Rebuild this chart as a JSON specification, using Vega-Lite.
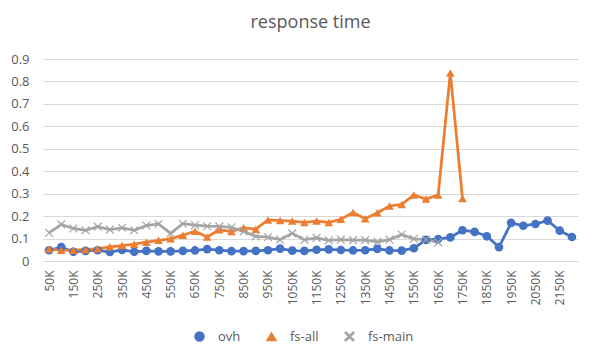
{
  "$schema": "https://vega.github.io/schema/vega-lite/v6.json",
  "width": 535,
  "height": 202,
  "padding": {"left": 10, "top": 14, "right": 19, "bottom": 5},
  "background": "white",
  "title": {"text": "response time", "fontSize": 18, "font": "Open Sans", "fontWeight": "normal", "color": "#595959", "offset": 21, "anchor": "middle"},
  "config": {
    "view": {"stroke": null},
    "font": "Open Sans",
    "legend": {"orient": "none", "legendX": 150, "legendY": 271, "direction": "horizontal", "labelFontSize": 13, "labelColor": "#595959", "labelFont": "Open Sans", "symbolSize": 80, "columnPadding": 23, "labelOffset": 12}
  },
  "data": {"values": [
    {"k": "50K", "ovh": 0.048, "fs-all": 0.053, "fs-main": 0.125},
    {"k": "100K", "ovh": 0.062, "fs-all": 0.048, "fs-main": 0.163},
    {"k": "150K", "ovh": 0.041, "fs-all": 0.048, "fs-main": 0.145},
    {"k": "200K", "ovh": 0.045, "fs-all": 0.051, "fs-main": 0.137},
    {"k": "250K", "ovh": 0.048, "fs-all": 0.055, "fs-main": 0.153},
    {"k": "300K", "ovh": 0.040, "fs-all": 0.063, "fs-main": 0.140},
    {"k": "350K", "ovh": 0.049, "fs-all": 0.069, "fs-main": 0.148},
    {"k": "400K", "ovh": 0.041, "fs-all": 0.075, "fs-main": 0.137},
    {"k": "450K", "ovh": 0.045, "fs-all": 0.084, "fs-main": 0.158},
    {"k": "500K", "ovh": 0.043, "fs-all": 0.092, "fs-main": 0.165},
    {"k": "550K", "ovh": 0.043, "fs-all": 0.099, "fs-main": 0.123},
    {"k": "600K", "ovh": 0.045, "fs-all": 0.115, "fs-main": 0.166},
    {"k": "650K", "ovh": 0.047, "fs-all": 0.133, "fs-main": 0.160},
    {"k": "700K", "ovh": 0.053, "fs-all": 0.107, "fs-main": 0.155},
    {"k": "750K", "ovh": 0.048, "fs-all": 0.139, "fs-main": 0.154},
    {"k": "800K", "ovh": 0.044, "fs-all": 0.131, "fs-main": 0.150},
    {"k": "850K", "ovh": 0.044, "fs-all": 0.148, "fs-main": 0.132},
    {"k": "900K", "ovh": 0.045, "fs-all": 0.142, "fs-main": 0.110},
    {"k": "950K", "ovh": 0.048, "fs-all": 0.183, "fs-main": 0.106},
    {"k": "1000K", "ovh": 0.055, "fs-all": 0.180, "fs-main": 0.095},
    {"k": "1050K", "ovh": 0.046, "fs-all": 0.178, "fs-main": 0.123},
    {"k": "1100K", "ovh": 0.045, "fs-all": 0.172, "fs-main": 0.094},
    {"k": "1150K", "ovh": 0.050, "fs-all": 0.178, "fs-main": 0.103},
    {"k": "1200K", "ovh": 0.052, "fs-all": 0.172, "fs-main": 0.092},
    {"k": "1250K", "ovh": 0.049, "fs-all": 0.186, "fs-main": 0.095},
    {"k": "1300K", "ovh": 0.047, "fs-all": 0.216, "fs-main": 0.093},
    {"k": "1350K", "ovh": 0.048, "fs-all": 0.188, "fs-main": 0.093},
    {"k": "1400K", "ovh": 0.054, "fs-all": 0.215, "fs-main": 0.085},
    {"k": "1450K", "ovh": 0.047, "fs-all": 0.245, "fs-main": 0.095},
    {"k": "1500K", "ovh": 0.046, "fs-all": 0.252, "fs-main": 0.118},
    {"k": "1550K", "ovh": 0.057, "fs-all": 0.294, "fs-main": 0.099},
    {"k": "1600K", "ovh": 0.094, "fs-all": 0.276, "fs-main": 0.095},
    {"k": "1650K", "ovh": 0.098, "fs-all": 0.294, "fs-main": 0.083},
    {"k": "1700K", "ovh": 0.105, "fs-all": 0.838, "fs-main": null},
    {"k": "1750K", "ovh": 0.137, "fs-all": 0.279, "fs-main": null},
    {"k": "1800K", "ovh": 0.130, "fs-all": null, "fs-main": null},
    {"k": "1850K", "ovh": 0.110, "fs-all": null, "fs-main": null},
    {"k": "1900K", "ovh": 0.062, "fs-all": null, "fs-main": null},
    {"k": "1950K", "ovh": 0.170, "fs-all": null, "fs-main": null},
    {"k": "2000K", "ovh": 0.157, "fs-all": null, "fs-main": null},
    {"k": "2050K", "ovh": 0.165, "fs-all": null, "fs-main": null},
    {"k": "2100K", "ovh": 0.180, "fs-all": null, "fs-main": null},
    {"k": "2150K", "ovh": 0.135, "fs-all": null, "fs-main": null},
    {"k": "2200K", "ovh": 0.107, "fs-all": null, "fs-main": null}
  ]},
  "transform": [{"fold": ["ovh", "fs-all", "fs-main"], "as": ["series", "value"]}],
  "encoding": {
    "x": {"field": "k", "type": "ordinal", "sort": null, "scale": {"type": "point", "padding": 0.5},
      "axis": {"title": null, "labelAngle": -90, "labelFontSize": 12, "labelColor": "#595959", "ticks": false, "domainColor": "#D9D9D9", "domainWidth": 1, "labelPadding": 9, "grid": false,
        "values": ["50K","150K","250K","350K","450K","550K","650K","750K","850K","950K","1050K","1150K","1250K","1350K","1450K","1550K","1650K","1750K","1850K","1950K","2050K","2150K"]}},
    "y": {"field": "value", "type": "quantitative", "scale": {"domain": [0, 0.9], "nice": false},
      "axis": {"title": null, "values": [0, 0.1, 0.2, 0.3, 0.4, 0.5, 0.6, 0.7, 0.8, 0.9], "format": "~g", "labelFontSize": 13, "labelColor": "#595959", "ticks": false, "domain": false, "gridColor": "#D9D9D9", "gridWidth": 1, "labelPadding": 14}},
    "color": {"field": "series", "type": "nominal", "scale": {"domain": ["ovh", "fs-all", "fs-main"], "range": ["#4472C4", "#ED7D31", "#A5A5A5"]}, "legend": {"title": null}}
  },
  "layer": [
    {"mark": {"type": "line", "strokeWidth": 2.75}},
    {"mark": {"type": "point", "filled": true, "size": 75, "opacity": 1},
      "encoding": {"shape": {"field": "series", "type": "nominal",
        "scale": {"domain": ["ovh", "fs-all", "fs-main"], "range": ["circle", "triangle-up", "M-1,-0.8L-0.8,-1L0,-0.2L0.8,-1L1,-0.8L0.2,0L1,0.8L0.8,1L0,0.2L-0.8,1L-1,0.8L-0.2,0Z"]},
        "legend": {"title": null}}}}
  ]
}
